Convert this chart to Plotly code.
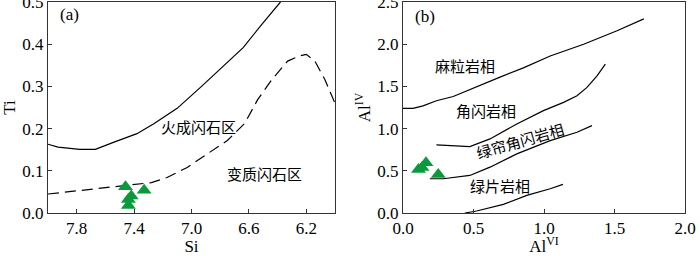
import plotly.graph_objects as go

# Panel (a): Si vs Ti
ign_si = [8.0, 7.93, 7.78, 7.67, 7.54, 7.38, 7.26, 7.10, 6.93, 6.79, 6.64, 6.51, 6.38]
ign_ti = [0.163, 0.156, 0.151, 0.151, 0.168, 0.188, 0.212, 0.248, 0.300, 0.344, 0.392, 0.447, 0.50]
met_si = [8.0, 7.75, 7.49, 7.28, 7.17, 7.03, 6.89, 6.75, 6.63, 6.54, 6.44, 6.33, 6.25, 6.20, 6.14, 6.07, 5.99]
met_ti = [0.045, 0.054, 0.065, 0.072, 0.084, 0.108, 0.140, 0.172, 0.212, 0.268, 0.316, 0.360, 0.372, 0.376, 0.360, 0.316, 0.252]
samp_si = [7.46, 7.33, 7.42, 7.44, 7.44]
samp_ti = [0.062, 0.054, 0.040, 0.032, 0.018]

# Panel (b): AlVI vs AlIV
b1_x = [0.0, 0.071, 0.142, 0.237, 0.356, 0.498, 0.688, 0.854, 1.044, 1.281, 1.518, 1.708]
b1_y = [1.24, 1.24, 1.27, 1.33, 1.38, 1.48, 1.61, 1.72, 1.86, 2.0, 2.16, 2.30]
b2_x = [0.237, 0.474, 0.617, 0.807, 0.996, 1.139, 1.234, 1.305, 1.376, 1.435]
b2_y = [0.807, 0.787, 0.878, 1.055, 1.213, 1.311, 1.39, 1.488, 1.626, 1.764]
b3_x = [0.19, 0.285, 0.474, 0.617, 0.807, 1.044, 1.234, 1.34]
b3_y = [0.406, 0.406, 0.445, 0.543, 0.70, 0.858, 0.957, 1.035]
b4_x = [0.439, 0.522, 0.712, 0.878, 1.044, 1.134]
b4_y = [0.0, 0.024, 0.102, 0.209, 0.287, 0.339]
samp_alvi = [0.11, 0.135, 0.163, 0.25]
samp_aliv = [0.515, 0.54, 0.595, 0.455]

labels_a = ["火成闪石区", "变质闪石区"]
labels_b = ["麻粒岩相", "角闪岩相", "绿帘角闪岩相", "绿片岩相"]

GREEN = "#0a9a3c"
SERIF = "Liberation Serif"
CJK = "Noto Sans CJK SC"

fig = go.Figure()
line = dict(color="black", width=1.2)
fig.add_trace(go.Scatter(x=ign_si, y=ign_ti, mode="lines", line=line, xaxis="x", yaxis="y"))
fig.add_trace(go.Scatter(x=met_si, y=met_ti, mode="lines", line=dict(color="black", width=1.2, dash="11px,6px"), xaxis="x", yaxis="y"))
fig.add_trace(go.Scatter(x=samp_si, y=samp_ti, mode="markers",
                         marker=dict(symbol="triangle-up", size=13, color=GREEN), xaxis="x", yaxis="y"))
for bx, by in [(b1_x, b1_y), (b2_x, b2_y), (b3_x, b3_y), (b4_x, b4_y)]:
    fig.add_trace(go.Scatter(x=bx, y=by, mode="lines", line=line, xaxis="x2", yaxis="y2"))
fig.add_trace(go.Scatter(x=samp_alvi, y=samp_aliv, mode="markers",
                         marker=dict(symbol="triangle-up", size=13, color=GREEN), xaxis="x2", yaxis="y2"))

ax_common = dict(showline=True, linecolor="#333", linewidth=1, mirror=True, ticks="inside",
                 ticklen=4, tickcolor="#333", showgrid=False, zeroline=False, automargin=False,
                 ticklabeloverflow="allow",
                 tickfont=dict(family=SERIF, size=17, color="black"))

tfont = dict(family=SERIF, size=17, color="black")
ydom = [43 / 256, 254 / 256]
fig.update_layout(
    width=700, height=256, margin=dict(l=0, r=0, t=0, b=0),
    paper_bgcolor="white", plot_bgcolor="white", showlegend=False,
    xaxis=dict(domain=[48 / 700, 335 / 700], range=[8.0, 6.0], tickvals=[7.8, 7.4, 7.0, 6.6, 6.2],
               ticktext=["7.8", "7.4", "7.0", "6.6", "6.2"], anchor="y",
               title=dict(text="Si", font=tfont, standoff=8), **ax_common),
    yaxis=dict(domain=ydom, range=[0, 0.5], tickvals=[0, 0.1, 0.2, 0.3, 0.4, 0.5],
               ticktext=["0.0", "0.1", "0.2", "0.3", "0.4", "0.5"], anchor="x",
               title=dict(text="Ti", font=tfont, standoff=4), **ax_common),
    xaxis2=dict(domain=[403 / 700, 685 / 700], range=[0, 2.0], tickvals=[0, 0.5, 1.0, 1.5, 2.0],
                ticktext=["0.0", "0.5", "1.0", "1.5", "2.0"], anchor="y2",
                title=dict(text="Al<sup>VI</sup>", font=tfont, standoff=8), **ax_common),
    yaxis2=dict(domain=ydom, range=[0, 2.5], tickvals=[0, 0.5, 1.0, 1.5, 2.0, 2.5],
                ticktext=["0.0", "0.5", "1.0", "1.5", "2.0", "2.5"], anchor="x2",
                title=dict(text="Al<sup>IV</sup>", font=tfont, standoff=2), **ax_common),
)

def ann(x, y, text, xref, yref, font, angle=0):
    fig.add_annotation(x=x, y=y, text=text, xref=xref, yref=yref, showarrow=False,
                       font=font, textangle=angle)

cfont = dict(family=CJK, size=15, color="black")
sfont = dict(family=SERIF, size=17, color="black")
ann(7.85, 0.471, "(a)", "x", "y", sfont)
ann(6.95, 0.206, labels_a[0], "x", "y", cfont)
ann(6.49, 0.093, labels_a[1], "x", "y", cfont)
ann(0.155, 2.33, "(b)", "x2", "y2", sfont)
ann(0.44, 1.745, labels_b[0], "x2", "y2", cfont)
ann(0.59, 1.21, labels_b[1], "x2", "y2", cfont)
ann(0.83, 0.86, labels_b[2], "x2", "y2", cfont, angle=-16)
ann(0.685, 0.33, labels_b[3], "x2", "y2", cfont)

fig.write_html("out.html", config={"displayModeBar": False},
               post_script="document.body.style.margin='0';document.body.style.overflow='hidden';")
